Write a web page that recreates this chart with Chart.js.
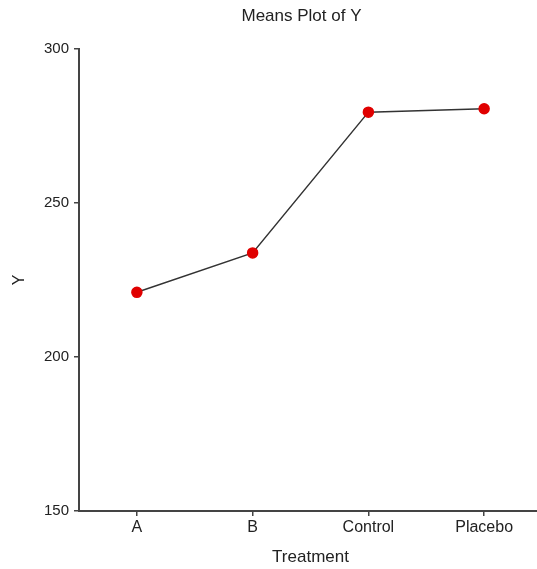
<!DOCTYPE html>
<html>
<head>
<meta charset="utf-8">
<script src="https://cdn.jsdelivr.net/npm/chart.js@4/dist/chart.umd.min.js"></script>
<style>
  html, body { margin: 0; padding: 0; background: #fff; overflow: hidden; }
  canvas { display: block; }
</style>
</head>
<body>
<canvas id="meansChart" width="542" height="569"></canvas>
<script>
/* ========= DATA ========= */
const treatments = ["A", "B", "Control", "Placebo"];
const meanY = [221.0, 233.8, 279.5, 280.6];
const yTicks = [150, 200, 250, 300];
const chartTitle = "Means Plot of Y";

const axisColor = "#444";
const textColor = "#222";
const fontFamily = "'Liberation Sans', Arial, sans-serif";

/* ========= TITLE (centred a bit left of the plot area, like the original) ========= */
const titlePlugin = {
  id: "plotTitle",
  afterDraw(chart) {
    const { ctx, chartArea } = chart;
    ctx.save();
    ctx.fillStyle = textColor;
    ctx.font = "17px " + fontFamily;
    ctx.textAlign = "center";
    ctx.textBaseline = "middle";
    ctx.fillText(chartTitle, (chartArea.left + chartArea.right) / 2 - 9, 16);
    ctx.restore();
  }
};

/* ========= CHART ========= */
new Chart(document.getElementById("meansChart"), {
  type: "line",
  data: {
    labels: treatments,
    datasets: [{
      data: meanY,
      borderColor: "#333",
      borderWidth: 1.5,
      pointBackgroundColor: "#e00000",
      pointBorderColor: "#e00000",
      pointRadius: 5,
      tension: 0,
      fill: false
    }]
  },
  plugins: [titlePlugin],
  options: {
    responsive: false,
    animation: false,
    layout: { padding: { top: 49, left: 0, right: 0, bottom: 0 }, autoPadding: false },
    plugins: {
      legend: { display: false },
      tooltip: { enabled: false },
      title: { display: false }
    },
    scales: {
      x: {
        offset: true,
        grid: { display: true, drawOnChartArea: false, tickLength: 5, color: axisColor, lineWidth: 1.5, offset: false },
        border: { display: true, color: axisColor, width: 2 },
        ticks: { color: textColor, font: { family: fontFamily, size: 16 }, padding: 2 },
        title: {
          display: true,
          text: "Treatment",
          color: textColor,
          font: { family: fontFamily, size: 17 },
          padding: { top: 4, bottom: 1 }
        },
        afterFit: s => { s.height = 58; }
      },
      y: {
        min: 150,
        max: 300,
        afterBuildTicks: s => { s.ticks = yTicks.map(v => ({ value: v })); },
        grid: { display: true, drawOnChartArea: false, tickLength: 5, color: axisColor, lineWidth: 1.5 },
        border: { display: true, color: axisColor, width: 2 },
        ticks: { color: textColor, font: { family: fontFamily, size: 15 }, padding: 5 },
        title: {
          display: true,
          text: "Y",
          color: textColor,
          font: { family: fontFamily, size: 16 },
          padding: { top: 10, bottom: 4 }
        },
        afterFit: s => { s.width = 79; }
      }
    }
  }
});
</script>
</body>
</html>
